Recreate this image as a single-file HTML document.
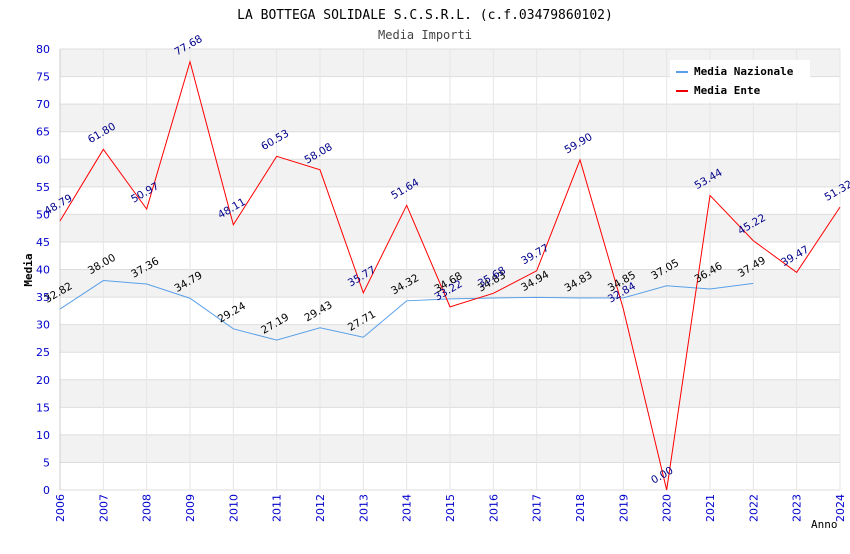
<!DOCTYPE html>
<html><head><meta charset="utf-8"><style>
body{margin:0;background:#fff;font-family:"DejaVu Sans Mono","Liberation Mono",monospace;}
svg text{font-family:"DejaVu Sans","Liberation Sans",sans-serif;}
</style></head><body>
<svg id="c" width="850" height="550" xmlns="http://www.w3.org/2000/svg">
<text x="425" y="19" text-anchor="middle" font-size="13" style="font-family:'DejaVu Sans Mono',monospace">LA BOTTEGA SOLIDALE S.C.S.R.L. (c.f.03479860102)</text>
<text x="425" y="39" text-anchor="middle" font-size="12" fill="#444" style="font-family:'DejaVu Sans Mono',monospace">Media Importi</text>
<g id="grid"></g><g id="axes"></g><g id="series"></g><g id="labels"></g>
<text x="32" y="270" transform="rotate(-90 32 270)" text-anchor="middle" font-size="11" font-weight="bold" style="font-family:'DejaVu Sans Mono',monospace">Media</text>
<text x="811" y="528" font-size="11" style="font-family:'DejaVu Sans Mono',monospace">Anno</text>
<g>
<rect x="670" y="60" width="140" height="42" fill="#fff"/>
<line x1="676" y1="72" x2="688" y2="72" stroke="#5aa0e8" stroke-width="2"/>
<text x="694" y="75" font-size="11" font-weight="bold" style="font-family:'DejaVu Sans Mono',monospace">Media Nazionale</text>
<line x1="676" y1="91" x2="688" y2="91" stroke="#e00" stroke-width="2"/>
<text x="694" y="94" font-size="11" font-weight="bold" style="font-family:'DejaVu Sans Mono',monospace">Media Ente</text>
</g>
</svg>
<script>
const years=[2006,2007,2008,2009,2010,2011,2012,2013,2014,2015,2016,2017,2018,2019,2020,2021,2022,2023,2024];
const ente=[48.79,61.80,50.97,77.68,48.11,60.53,58.08,35.77,51.64,33.22,35.68,39.77,59.90,32.84,0.00,53.44,45.22,39.47,51.32];
const naz=[32.82,38.00,37.36,34.79,29.24,27.19,29.43,27.71,34.32,34.68,34.83,34.94,34.83,34.85,37.05,36.46,37.49];
const yTicks=[0,5,10,15,20,25,30,35,40,45,50,55,60,65,70,75,80];
const NS="http://www.w3.org/2000/svg";
const x0=60,x1=840,yB=490,yT=49;
const X=i=>x0+(x1-x0)*i/(years.length-1);
const Y=v=>yB-(yB-yT)*v/80;
function mk(t,a,p){const e=document.createElementNS(NS,t);for(const k in a)e.setAttribute(k,a[k]);document.getElementById(p).appendChild(e);return e;}
for(let k=0;k<yTicks.length-1;k++){
 if(k%2===1){const r=mk('rect',{x:x0,y:Y(yTicks[k+1]),width:x1-x0,height:Y(yTicks[k])-Y(yTicks[k+1]),fill:'#f2f2f2'},'grid');
 
 }
}
yTicks.forEach(v=>{
 const l=mk('line',{x1:x0,x2:x1,y1:Y(v),y2:Y(v),stroke:'#ddd'},'grid');
 
 
 const t=mk('text',{x:x0-10,y:Y(v)+4,'text-anchor':'end','font-size':11,fill:'#00c'},'axes');
 t.textContent=v;
 
 
});
years.forEach((y,i)=>{
 const l=mk('line',{x1:X(i),x2:X(i),y1:yT,y2:yB,stroke:'#e6e6e6'},'grid');
 
 
 const tx=X(i)+4,ty=yB+4;
 const t=mk('text',{x:tx,y:ty,transform:`rotate(-90 ${tx} ${ty})`,'text-anchor':'end','font-size':11,fill:'#00c'},'axes');
 t.textContent=y;
 
 
});
const ax=mk('line',{x1:x0,x2:x0,y1:yT,y2:yB,stroke:'#ccc'},'axes');


function series(arr,color,lc,name){
 const p=mk('polyline',{points:arr.map((v,i)=>X(i)+','+Y(v)).join(' '),fill:'none',stroke:color,'stroke-width':1},'series');
 
 
 arr.forEach((v,i)=>{
  const tx=X(i)-13,ty=Y(v)-6;
  const t=mk('text',{x:tx,y:ty,transform:`rotate(-30 ${tx} ${ty})`,'font-size':10.5,fill:lc},'labels');
  t.textContent=v.toFixed(2);
  
  
 });
}
series(naz,'#5aa0e8','#000','nazionale');
series(ente,'#f00','#00008b','ente');
</script>
</body></html>
